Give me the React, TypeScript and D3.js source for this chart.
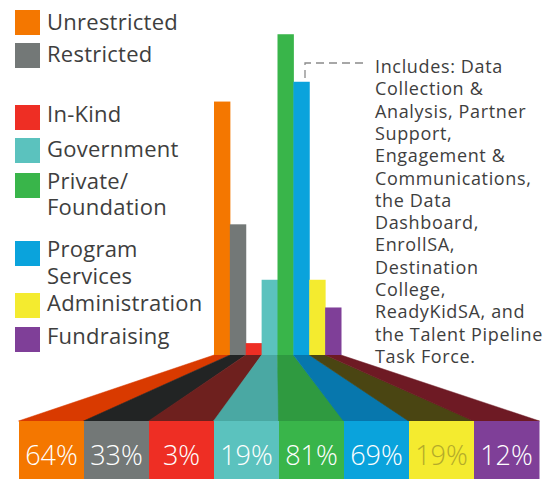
import React from "react";
import * as d3 from "d3";

const categories = [
  "Unrestricted",
  "Restricted",
  "In-Kind",
  "Government",
  "Private/Foundation",
  "Program Services",
  "Administration",
  "Fundraising",
];
const values = [64, 33, 3, 19, 81, 69, 19, 12];
const legendLabels = [
  ["Unrestricted"],
  ["Restricted"],
  ["In-Kind"],
  ["Government"],
  ["Private/", "Foundation"],
  ["Program", "Services"],
  ["Administration"],
  ["Fundraising"],
];
const noteLines = [
  "Includes: Data",
  "Collection &",
  "Analysis, Partner",
  "Support,",
  "Engagement &",
  "Communications,",
  "the Data",
  "Dashboard,",
  "EnrollSA,",
  "Destination",
  "College,",
  "ReadyKidSA, and",
  "the Talent Pipeline",
  "Task Force.",
];

const barColors = ["#f47700", "#737877", "#ee2e24", "#5bc2be", "#39b54a", "#0aa3dc", "#f4eb2f", "#7f3f98"];
const fanColors = ["#d93a00", "#222424", "#6e201e", "#4aa8a3", "#2f9a40", "#0777ad", "#4a4512", "#6e1a24"];
const labelColors = ["#fff", "#fff", "#fff", "#fff", "#fff", "#fff", "#b3aa2a", "#fff"];

// layout
const legendSquareTop = [10, 43, 105, 138, 173, 241, 293, 327];
const legendBaseline = [29.5, 62, 122, 156.5, 188.5, 257, 311, 344];
const FONT = "'Open Sans', 'Noto Sans', sans-serif";
const TEXT = "#3e3e3e";

export default function App() {
  const W = 559;
  const H = 479;
  const baseY = 355;
  const boxTop = 421;

  const xBar = d3.scaleBand<string>().domain(categories).range([214, 341]).padding(0);
  const xBox = d3.scaleBand<string>().domain(categories).range([19, 539]).padding(0);
  const y = d3.scaleLinear().domain([0, 100]).range([baseY, baseY - 396]);

  return (
    <svg
      width={W}
      height={H}
      style={{ position: "absolute", left: 0, top: 0, background: "#fff" }}
      fontFamily={FONT}
    >
      {/* fans */}
      {categories.map((c, i) => {
        const x0 = xBar(c)!;
        const x1 = x0 + xBar.bandwidth();
        const b0 = xBox(c)!;
        const b1 = b0 + xBox.bandwidth();
        return (
          <polygon
            key={"f" + c}
            points={`${x0},${baseY} ${x1},${baseY} ${b1 + 0.5},${boxTop} ${b0 - 0.5},${boxTop}`}
            fill={fanColors[i]}
            stroke={fanColors[i]}
            strokeWidth={0.5}
          />
        );
      })}
      {/* bars */}
      {categories.map((c, i) => (
        <rect
          key={"b" + c}
          x={xBar(c)!}
          y={y(values[i])}
          width={xBar.bandwidth() + 0.5}
          height={baseY - y(values[i])}
          fill={barColors[i]}
        />
      ))}
      {/* boxes */}
      {categories.map((c, i) => (
        <g key={"x" + c}>
          <rect x={xBox(c)!} y={boxTop} width={xBox.bandwidth() + 0.5} height={H - boxTop} fill={barColors[i]} />
          <text
            x={xBox(c)! + xBox.bandwidth() / 2}
            y={465}
            textAnchor="middle"
            fontSize={27}
            fontWeight={300}
            fill={labelColors[i]}
          >
            {values[i]}%
          </text>
        </g>
      ))}
      {/* legend */}
      {categories.map((c, i) => (
        <g key={"l" + c}>
          <rect x={15} y={legendSquareTop[i]} width={25} height={25} fill={barColors[i]} />
          <text x={47} y={legendBaseline[i]} fontSize={22} letterSpacing={0.25} fill={TEXT}>
            {legendLabels[i].map((t, j) => (
              <tspan key={j} x={47} dy={j === 0 ? 0 : 26.5}>
                {t}
              </tspan>
            ))}
          </text>
        </g>
      ))}
      {/* annotation */}
      <path d="M363,63 H305 V80" fill="none" stroke="#8a8a8a" strokeWidth={1.3} strokeDasharray="8,5" />
      {noteLines.map((t, i) => (
        <text key={"n" + i} x={375} y={73 + i * 22.3} fontSize={18} letterSpacing={0.65} fill={TEXT}>
          {t}
        </text>
      ))}
    </svg>
  );
}
